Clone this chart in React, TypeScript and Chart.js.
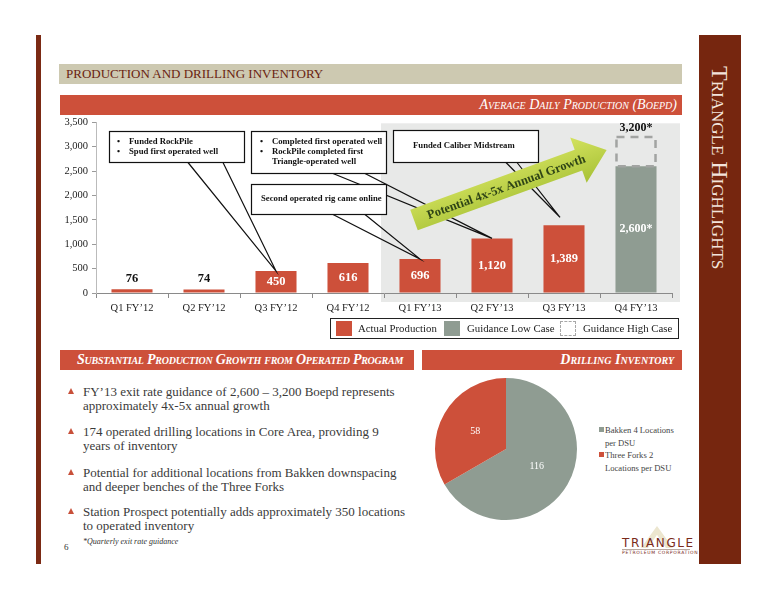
import React, { useEffect, useRef } from "react";
import { Chart, registerables } from "chart.js";
Chart.register(...registerables);

// ---------- DATA ----------
const categories = ["Q1 FY’12", "Q2 FY’12", "Q3 FY’12", "Q4 FY’12", "Q1 FY’13", "Q2 FY’13", "Q3 FY’13", "Q4 FY’13"];
const actualProduction = [76, 74, 450, 616, 696, 1120, 1389, null];
const guidanceLow = [null, null, null, null, null, null, null, 2600];
const guidanceHigh = [null, null, null, null, null, null, null, 3200];
const yTicks = [0, 500, 1000, 1500, 2000, 2500, 3000, 3500];
const seriesNames = ["Actual Production", "Guidance Low Case", "Guidance High Case"];

const calloutTexts = [
  { lines: ["• Funded RockPile", "• Spud first operated well"], target: 2 },
  { lines: ["• Completed first operated well", "• RockPile completed first", "  Triangle-operated well"], target: 5 },
  { lines: ["Second operated rig came online"], target: 4 },
  { lines: ["Funded Caliber Midstream"], target: 6 },
];
const arrowText = "Potential 4x-5x Annual Growth";

const bulletPoints = [
  ["FY’13 exit rate guidance of 2,600 – 3,200 Boepd represents", "approximately 4x-5x annual growth"],
  ["174 operated drilling locations in Core Area, providing 9", "years of inventory"],
  ["Potential for additional locations from Bakken downspacing", "and deeper benches of the Three Forks"],
  ["Station Prospect potentially adds approximately 350 locations", "to operated inventory"],
];

const pieLabels = [["Bakken 4 Locations", "per DSU"], ["Three Forks 2", "Locations per DSU"]];
const pieValues = [116, 58];

// ---------- STYLE / LAYOUT ----------
const SERIF = "'Liberation Serif', 'Times New Roman', serif";
const RED = "#cd503a";
const GRAY = "#8f9c92";
const BROWN = "#76260f";
const CH_L = 40, CH_T = 112, CH_W = 650, CH_H = 215;

const calloutBoxes = [
  { box: [109, 131, 244, 162], base: [188, 223], tx: 129, bx: 117, y0: 142, off: [0, 0] },
  { box: [251, 131, 386, 173], base: [333, 365], tx: 272, bx: 260, y0: 142, off: [0, 0] },
  { box: [251, 184, 386, 214], base: [333, 365], tx: 261, bx: 261, y0: 199, off: [0, 0] },
  { box: [393, 130, 538, 162], base: [506, 517], tx: 413, bx: 413, y0: 146, off: [-4, -8] },
];

function fmt(v: number) {
  return v.toLocaleString("en-US");
}

const bgPlugin = {
  id: "bgRegion",
  beforeDraw(chart: any) {
    const { ctx, chartArea, scales } = chart;
    const x0 = scales.x.getPixelForValue(4) - 39;
    const y0 = scales.y.getPixelForValue(3500) + 1;
    ctx.save();
    ctx.fillStyle = "#e8e9e8";
    ctx.fillRect(x0, y0, chartArea.right + 8 - x0, chartArea.bottom + 9 - y0);
    ctx.restore();
  },
};

const overlayPlugin = {
  id: "overlay",
  afterDatasetsDraw(chart: any) {
    const ctx = chart.ctx;
    ctx.save();
    const m2 = chart.getDatasetMeta(2);
    m2.data.forEach((el: any, i: number) => {
      if (guidanceHigh[i] == null) return;
      const { x, y, base, width } = el.getProps(["x", "y", "base", "width"], true);
      ctx.save();
      ctx.strokeStyle = "#a2a4a2";
      ctx.lineWidth = 2.5;
      ctx.setLineDash([8, 6]);
      ctx.strokeRect(x - width / 2 + 1, y, width - 2, base - y);
      ctx.restore();
      ctx.fillStyle = "#111";
      ctx.font = `bold 12px ${SERIF}`;
      ctx.textAlign = "center";
      ctx.textBaseline = "middle";
      ctx.fillText(fmt(guidanceHigh[i] as number) + "*", x, y - 9);
    });
    const m1 = chart.getDatasetMeta(1);
    m1.data.forEach((el: any, i: number) => {
      if (guidanceLow[i] == null) return;
      const { x, y, base } = el.getProps(["x", "y", "base"], true);
      ctx.fillStyle = "#fff";
      ctx.font = `bold 12px ${SERIF}`;
      ctx.textAlign = "center";
      ctx.textBaseline = "middle";
      ctx.fillText(fmt(guidanceLow[i] as number) + "*", x, (y + base) / 2);
    });
    const m0 = chart.getDatasetMeta(0);
    m0.data.forEach((el: any, i: number) => {
      const v = actualProduction[i];
      if (v == null) return;
      const { x, y, base } = el.getProps(["x", "y", "base"], true);
      ctx.font = `bold 12.5px ${SERIF}`;
      ctx.textAlign = "center";
      ctx.textBaseline = "middle";
      if (base - y < 15) {
        ctx.fillStyle = "#111";
        ctx.fillText(fmt(v), x, y - 11);
      } else {
        ctx.fillStyle = "#fff";
        ctx.fillText(fmt(v), x, (y + base) / 2);
      }
    });
    calloutTexts.forEach((c, k) => {
      const L = calloutBoxes[k];
      const el = m0.data[c.target];
      const { x: txp, y: typ } = el.getProps(["x", "y"], true);
      const tx = txp + L.off[0], ty = typ + L.off[1];
      const [l, t, r, b] = L.box.map((v, j) => v - (j % 2 === 0 ? CH_L : CH_T));
      ctx.fillStyle = "#fff";
      ctx.fillRect(l, t, r - l, b - t);
      ctx.strokeStyle = "#111";
      ctx.lineWidth = 1.2;
      ctx.strokeRect(l + 0.5, t + 0.5, r - l, b - t);
      ctx.beginPath();
      ctx.moveTo(L.base[0] - CH_L, b + 0.5);
      ctx.lineTo(tx, ty);
      ctx.lineTo(L.base[1] - CH_L, b + 0.5);
      ctx.stroke();
      ctx.fillStyle = "#111";
      ctx.font = `bold 8.7px ${SERIF}`;
      ctx.textAlign = "left";
      ctx.textBaseline = "middle";
      c.lines.forEach((line, j) => {
        const yy = L.y0 - CH_T + j * 10;
        if (line.startsWith("•")) {
          ctx.fillText("•", L.bx - CH_L, yy);
          ctx.fillText(line.slice(2), L.tx - CH_L, yy);
        } else {
          ctx.fillText(line.trim(), L.tx - CH_L, yy);
        }
      });
    });
    ctx.save();
    ctx.translate(414 - CH_L, 220 - CH_T);
    ctx.rotate((-20 * Math.PI) / 180);
    const AL = 205, hw = 11, Hw = 24, hl = 30;
    ctx.beginPath();
    ctx.moveTo(0, -hw);
    ctx.lineTo(AL - hl, -hw);
    ctx.lineTo(AL - hl, -Hw);
    ctx.lineTo(AL, 0);
    ctx.lineTo(AL - hl, Hw);
    ctx.lineTo(AL - hl, hw);
    ctx.lineTo(0, hw);
    ctx.closePath();
    const g = ctx.createLinearGradient(0, -Hw, 0, Hw);
    g.addColorStop(0, "#d3e25e");
    g.addColorStop(1, "#a8c237");
    ctx.fillStyle = g;
    ctx.fill();
    ctx.fillStyle = "#2f4516";
    ctx.font = `bold 12.5px ${SERIF}`;
    ctx.textAlign = "center";
    ctx.textBaseline = "middle";
    ctx.fillText(arrowText, 98, 1);
    ctx.restore();
    ctx.restore();
  },
};

const pieLabelPlugin = {
  id: "pieLabels",
  afterDatasetsDraw(chart: any) {
    const ctx = chart.ctx;
    const meta = chart.getDatasetMeta(0);
    ctx.save();
    ctx.fillStyle = "#fff";
    ctx.font = `10px ${SERIF}`;
    ctx.textAlign = "center";
    ctx.textBaseline = "middle";
    meta.data.forEach((arc: any, i: number) => {
      const p = arc.tooltipPosition(true);
      ctx.fillText(String(pieValues[i]), p.x, p.y);
    });
    ctx.restore();
  },
};

function Abs(props: { x: number; y: number; style?: React.CSSProperties; children?: React.ReactNode }) {
  return (
    <div style={{ position: "absolute", left: props.x, top: props.y, whiteSpace: "nowrap", ...props.style }}>
      {props.children}
    </div>
  );
}

export default function App() {
  const barRef = useRef<HTMLCanvasElement>(null);
  const pieRef = useRef<HTMLCanvasElement>(null);

  useEffect(() => {
    const tickFont = { family: SERIF, size: 10.5 };
    const bar = new Chart(barRef.current as HTMLCanvasElement, {
      type: "bar",
      data: {
        labels: categories,
        datasets: [
          { label: seriesNames[0], data: actualProduction as any, backgroundColor: RED, borderWidth: 0 },
          { label: seriesNames[1], data: guidanceLow as any, backgroundColor: GRAY, borderWidth: 0 },
          {
            label: seriesNames[2],
            data: guidanceHigh.map((v, i) => (v == null ? null : [guidanceLow[i] as number, v])) as any,
            backgroundColor: "rgba(0,0,0,0)",
            borderWidth: 0,
          },
        ],
      },
      options: {
        responsive: false,
        animation: false,
        events: [],
        layout: { padding: { top: 9, right: 18, left: 0, bottom: 0 } },
        datasets: { bar: { grouped: false, barPercentage: 0.57, categoryPercentage: 1 } } as any,
        plugins: { legend: { display: false }, tooltip: { enabled: false } },
        scales: {
          x: {
            grid: { display: true, drawOnChartArea: false, offset: true, tickLength: 5, color: "#8a8a8a" },
            border: { color: "#8a8a8a" },
            ticks: { font: tickFont, color: "#222", padding: 4, maxRotation: 0 },
            afterFit: (s: any) => {
              s.height = 34;
            },
          },
          y: {
            min: 0,
            max: 3500,
            afterBuildTicks: (s: any) => {
              s.ticks = yTicks.map((v) => ({ value: v }));
            },
            grid: { drawOnChartArea: false, tickLength: 4, color: "#9a9a9a" },
            border: { color: "#bbbbbb" },
            ticks: { font: tickFont, color: "#222", padding: 4, callback: (v: any) => fmt(Number(v)) },
            afterFit: (s: any) => {
              s.width = 56;
            },
          },
        },
      },
      plugins: [bgPlugin, overlayPlugin],
    });

    const pie = new Chart(pieRef.current as HTMLCanvasElement, {
      type: "pie",
      data: {
        labels: pieLabels.map((l) => l.join(" ")),
        datasets: [{ data: pieValues, backgroundColor: [GRAY, RED], borderWidth: 0 }],
      },
      options: {
        responsive: false,
        animation: false,
        events: [],
        layout: { padding: 4 },
        plugins: { legend: { display: false }, tooltip: { enabled: false } },
      },
      plugins: [pieLabelPlugin],
    });
    return () => {
      bar.destroy();
      pie.destroy();
    };
  }, []);

  const sectionTitle: React.CSSProperties = {
    color: "#fff",
    fontStyle: "italic",
    fontVariant: "small-caps",
    fontWeight: "bold",
    fontSize: 14,
    lineHeight: "20px",
    fontFamily: SERIF,
  };
  const bodyText: React.CSSProperties = { fontSize: 13, lineHeight: "14px", color: "#3a3a3a", fontFamily: SERIF };
  const legendText: React.CSSProperties = { fontSize: 10.8, lineHeight: "15px", color: "#222", fontFamily: SERIF };
  const bulletYs = [392, 432, 473, 512];
  const legendItems = [
    { sx: 336, tx: 358, sw: { background: RED } as React.CSSProperties },
    { sx: 444, tx: 467, sw: { background: GRAY } as React.CSSProperties },
    { sx: 560, tx: 583, sw: { border: "1.5px dashed #a8a8a8", boxSizing: "border-box" } as React.CSSProperties },
  ];

  return (
    <div
      style={{
        position: "absolute",
        left: 0,
        top: 0,
        width: 776,
        height: 600,
        background: "#fff",
        overflow: "hidden",
        fontFamily: SERIF,
      }}
    >
      <div style={{ position: "absolute", left: 36, top: 35, width: 5, height: 529, background: "#7b2a14" }} />
      <div style={{ position: "absolute", left: 699, top: 35, width: 42, height: 529, background: BROWN }} />
      <div
        style={{
          position: "absolute",
          left: 699,
          top: 66,
          width: 42,
          writingMode: "vertical-rl",
          lineHeight: "42px",
          fontSize: 24,
          fontVariant: "small-caps",
          color: "#f3e4dc",
          fontFamily: SERIF,
          whiteSpace: "nowrap",
        }}
      >
        Triangle Highlights
      </div>

      <div style={{ position: "absolute", left: 59, top: 64, width: 623, height: 20, background: "#cdc9b1" }} />
      <Abs x={66} y={64} style={{ fontSize: 13, lineHeight: "20px", color: "#6a1e10", fontFamily: SERIF }}>
        PRODUCTION AND DRILLING INVENTORY
      </Abs>
      <div style={{ position: "absolute", left: 60, top: 95, width: 622, height: 20, background: RED }} />
      <div style={{ position: "absolute", left: 60, top: 95, width: 617, textAlign: "right", ...sectionTitle, fontWeight: "normal" }}>
        Average Daily Production (Boepd)
      </div>

      <canvas
        ref={barRef}
        width={CH_W}
        height={CH_H}
        style={{ position: "absolute", left: CH_L, top: CH_T, width: CH_W, height: CH_H }}
      />

      <div
        style={{
          position: "absolute",
          left: 330,
          top: 318,
          width: 349,
          height: 21,
          border: "1px solid #222",
          boxSizing: "border-box",
        }}
      />
      {legendItems.map((it, i) => (
        <React.Fragment key={i}>
          <div style={{ position: "absolute", left: it.sx, top: 321, width: 16, height: 15, ...it.sw }} />
          <Abs x={it.tx} y={321} style={legendText}>
            {seriesNames[i]}
          </Abs>
        </React.Fragment>
      ))}

      <div style={{ position: "absolute", left: 60, top: 350, width: 354, height: 20, background: RED }} />
      <Abs x={77} y={350} style={{ ...sectionTitle, letterSpacing: "-0.25px" }}>
        Substantial Production Growth from Operated Program
      </Abs>
      <div style={{ position: "absolute", left: 422, top: 350, width: 260, height: 20, background: RED }} />
      <div style={{ position: "absolute", left: 422, top: 350, width: 252, textAlign: "right", ...sectionTitle }}>
        Drilling Inventory
      </div>

      {bulletPoints.map((lines, i) => (
        <React.Fragment key={i}>
          <div
            style={{
              position: "absolute",
              left: 68,
              top: bulletYs[i] - 4,
              width: 0,
              height: 0,
              borderLeft: "3.5px solid transparent",
              borderRight: "3.5px solid transparent",
              borderBottom: "6px solid #c8503a",
            }}
          />
          {lines.map((ln, j) => (
            <Abs key={j} x={83} y={bulletYs[i] - 7 + j * 14} style={bodyText}>
              {ln}
            </Abs>
          ))}
        </React.Fragment>
      ))}
      <Abs x={83} y={536} style={{ fontSize: 8, lineHeight: "12px", fontStyle: "italic", color: "#333", fontFamily: SERIF }}>
        *Quarterly exit rate guidance
      </Abs>
      <Abs x={64} y={541} style={{ fontSize: 9, lineHeight: "12px", color: "#333", fontFamily: SERIF }}>
        6
      </Abs>

      <canvas
        ref={pieRef}
        width={150}
        height={150}
        style={{ position: "absolute", left: 431, top: 374, width: 150, height: 150 }}
      />
      {pieLabels.map((lines, i) => (
        <React.Fragment key={i}>
          <div
            style={{
              position: "absolute",
              left: 599,
              top: (i === 0 ? 430 : 455) - 3,
              width: 5,
              height: 5,
              background: i === 0 ? GRAY : RED,
            }}
          />
          {lines.map((ln, j) => (
            <Abs
              key={j}
              x={605}
              y={(i === 0 ? 430 : 455) - 7 + j * 13}
              style={{ fontSize: 8.6, lineHeight: "14px", color: "#444", fontFamily: SERIF }}
            >
              {ln}
            </Abs>
          ))}
        </React.Fragment>
      ))}

      <div
        style={{
          position: "absolute",
          left: 641,
          top: 526,
          width: 32,
          height: 22,
          background: "#ece6cf",
          clipPath: "polygon(50% 0, 100% 100%, 78% 100%, 50% 40%, 22% 100%, 0 100%)",
        }}
      />
      <Abs
        x={622}
        y={536}
        style={{
          fontSize: 12,
          lineHeight: "14px",
          letterSpacing: "1.6px",
          color: "#7a2a1a",
          fontFamily: "'DejaVu Sans', sans-serif",
        }}
      >
        TRIANGLE
      </Abs>
      <div style={{ position: "absolute", left: 622, top: 549, width: 68, height: 1, background: "#b9a9a0" }} />
      <Abs
        x={622}
        y={550}
        style={{ fontSize: 4.5, lineHeight: "6px", letterSpacing: "0.7px", color: "#7a2a1a", fontFamily: "'DejaVu Sans', sans-serif" }}
      >
        PETROLEUM CORPORATION
      </Abs>
    </div>
  );
}
